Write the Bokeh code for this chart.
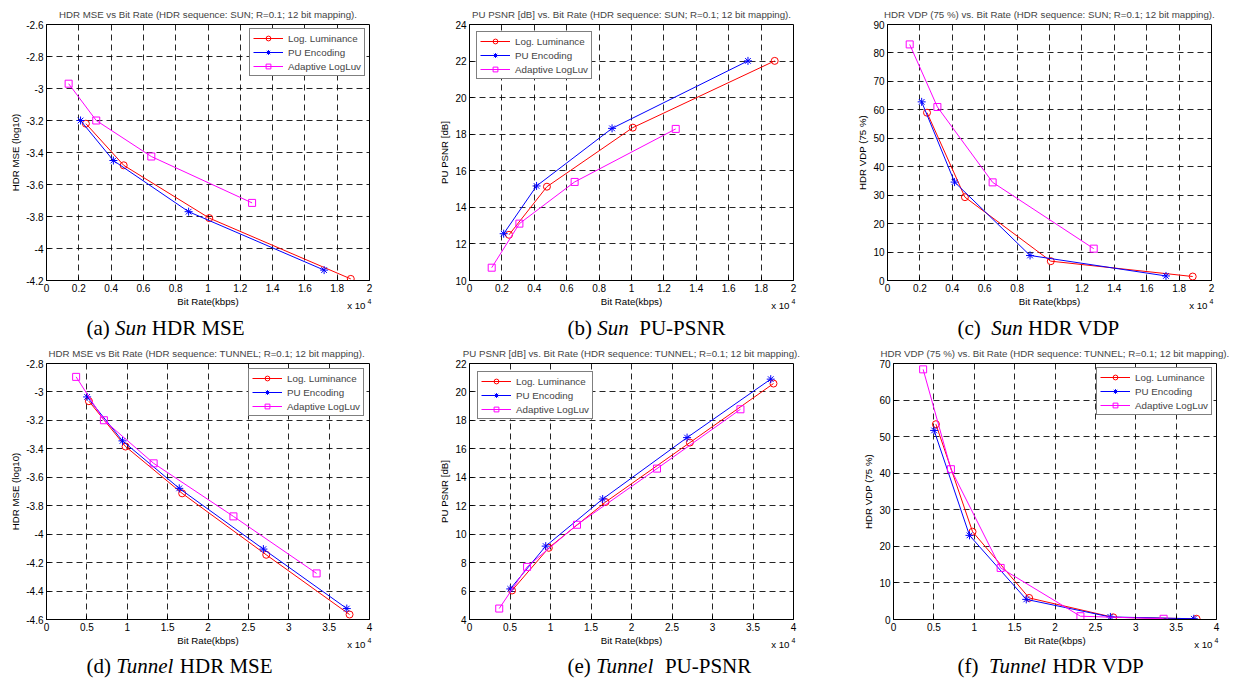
from bokeh.plotting import figure
from bokeh.models import Range1d, FixedTicker, Label
from bokeh.layouts import column, row
from bokeh.embed import file_html
from bokeh.resources import INLINE

# ---------------- data (bit rate in kbps) ----------------
SERIES = ["Log. Luminance", "PU Encoding", "Adaptive LogLuv"]

SUN_LOG_X = [2440, 4780, 10080, 18840]
SUN_PU_X = [2110, 4140, 8800, 17190]
SUN_LUV_X = [1370, 3080, 6490, 12730]

SUN_MSE_LOG = [-3.22, -3.48, -3.81, -4.19]
SUN_MSE_PU = [-3.20, -3.45, -3.77, -4.135]
SUN_MSE_LUV = [-2.97, -3.20, -3.425, -3.715]

SUN_PSNR_LOG = [12.50, 15.13, 18.36, 22.01]
SUN_PSNR_PU = [12.56, 15.17, 18.32, 22.01]
SUN_PSNR_LUV = [10.70, 13.11, 15.39, 18.29]

SUN_VDP_LOG = [59.0, 29.3, 6.8, 1.4]
SUN_VDP_PU = [62.8, 34.6, 8.8, 1.6]
SUN_VDP_LUV = [83.0, 61.0, 34.5, 11.2]

TUN_LOG_X = [5250, 9790, 16800, 27210, 37530]
TUN_PU_X = [5030, 9410, 16440, 26860, 37190]
TUN_LUV_X = [3670, 7110, 13270, 23150, 33450]

TUN_MSE_LOG = [-3.065, -3.384, -3.713, -4.145, -4.565]
TUN_MSE_PU = [-3.035, -3.344, -3.678, -4.105, -4.523]
TUN_MSE_LUV = [-2.894, -3.199, -3.502, -3.875, -4.276]

TUN_PSNR_LOG = [6.04, 9.04, 12.26, 16.44, 20.59]
TUN_PSNR_PU = [6.15, 9.16, 12.47, 16.79, 20.90]
TUN_PSNR_LUV = [4.77, 7.70, 10.66, 14.61, 18.78]

TUN_VDP_LOG = [53.4, 24.0, 5.9, 0.6, 0.2]
TUN_VDP_PU = [51.7, 23.0, 5.5, 0.7, 0.2]
TUN_VDP_LUV = [68.4, 41.1, 14.1, 0.9, 0.2]

# ---------------- ticks ----------------
X_TICKS_SUN = [0, 2000, 4000, 6000, 8000, 10000, 12000, 14000, 16000, 18000, 20000]
X_LABELS_SUN = ["0", "0.2", "0.4", "0.6", "0.8", "1", "1.2", "1.4", "1.6", "1.8", "2"]
X_TICKS_TUN = [0, 5000, 10000, 15000, 20000, 25000, 30000, 35000, 40000]
X_LABELS_TUN = ["0", "0.5", "1", "1.5", "2", "2.5", "3", "3.5", "4"]

Y_TICKS_SUN_MSE = [-4.2, -4.0, -3.8, -3.6, -3.4, -3.2, -3.0, -2.8, -2.6]
Y_LABELS_SUN_MSE = ["-4.2", "-4", "-3.8", "-3.6", "-3.4", "-3.2", "-3", "-2.8", "-2.6"]
Y_TICKS_SUN_PSNR = [10, 12, 14, 16, 18, 20, 22, 24]
Y_LABELS_SUN_PSNR = ["10", "12", "14", "16", "18", "20", "22", "24"]
Y_TICKS_SUN_VDP = [0, 10, 20, 30, 40, 50, 60, 70, 80, 90]
Y_LABELS_SUN_VDP = ["0", "10", "20", "30", "40", "50", "60", "70", "80", "90"]
Y_TICKS_TUN_MSE = [-4.6, -4.4, -4.2, -4.0, -3.8, -3.6, -3.4, -3.2, -3.0, -2.8]
Y_LABELS_TUN_MSE = ["-4.6", "-4.4", "-4.2", "-4", "-3.8", "-3.6", "-3.4", "-3.2", "-3", "-2.8"]
Y_TICKS_TUN_PSNR = [4, 6, 8, 10, 12, 14, 16, 18, 20, 22]
Y_LABELS_TUN_PSNR = ["4", "6", "8", "10", "12", "14", "16", "18", "20", "22"]
Y_TICKS_TUN_VDP = [0, 10, 20, 30, 40, 50, 60, 70]
Y_LABELS_TUN_VDP = ["0", "10", "20", "30", "40", "50", "60", "70"]

TITLES = [
    "HDR MSE vs Bit Rate (HDR sequence: SUN; R=0.1; 12 bit mapping).",
    "PU PSNR [dB] vs. Bit Rate (HDR sequence: SUN; R=0.1; 12 bit mapping).",
    "HDR VDP (75 %) vs. Bit Rate (HDR sequence: SUN; R=0.1; 12 bit mapping).",
    "HDR MSE vs  Bit Rate (HDR sequence: TUNNEL; R=0.1; 12 bit mapping).",
    "PU PSNR [dB] vs. Bit Rate (HDR sequence: TUNNEL; R=0.1; 12 bit mapping).",
    "HDR VDP (75 %) vs. Bit Rate (HDR sequence: TUNNEL; R=0.1; 12 bit mapping).",
]
Y_LABELS = ["HDR MSE (log10)", "PU PSNR [dB]", "HDR VDP (75 %)"]
X_LABEL = "Bit Rate(kbps)"
X_MULT = "x 10"
X_EXP = "4"
CAPTIONS = [
    ("(a) ", "Sun", " HDR MSE"),
    ("(b) ", "Sun", "  PU-PSNR"),
    ("(c)  ", "Sun", " HDR VDP"),
    ("(d) ", "Tunnel", " HDR MSE"),
    ("(e) ", "Tunnel", "  PU-PSNR"),
    ("(f)  ", "Tunnel", " HDR VDP"),
]

COLORS = ["#ff0000", "#0000ff", "#ff00ff"]
MARKERS = ["circle", "asterisk", "square"]
SANS = "Liberation Sans"
SERIF = "Liberation Serif"

# Times metrics (per 1000 em) for caption piece placement
TIMES_R = {" ": 250, "(": 333, ")": 333, "a": 444, "b": 500, "c": 444, "d": 500, "e": 444, "f": 333}
TIMES_I = {"S": 500, "u": 500, "n": 500, "T": 556, "e": 444, "l": 278}


def twidth(s, table, size):
    return sum(table.get(ch, 500) for ch in s) * size / 1000.0


# ---------------- layout geometry (page pixels) ----------------
COL_LEFT = [0, 418, 830]
COL_W = [418, 412, 403]
FRAME_LEFT = [[46, 469, 887], [46, 469, 893]]
FRAME_W = [[323, 324, 324], [323, 324, 323]]
ROW_TOP = [0, 340]
MAIN_H = [296, 295]
MAIN_MBT = [24, 23]
TITLE_STANDOFF = [10, 9]
FRAME_H = 256
STRIP_H = [44, 44]
CAP_X = [86, 567, 957]
CAP_MID = [327, 665]


def make_panel(idx, xs, ys, xticks, xlabels, yticks, ylabels, yrange, xmax, legend_loc, legend_margin):
    r, c = idx // 3, idx % 3
    W = COL_W[c]
    H = MAIN_H[r]
    mbl = FRAME_LEFT[r][c] - COL_LEFT[c]
    mbr = W - mbl - FRAME_W[r][c]
    mbt = MAIN_MBT[r]
    mbb = H - mbt - FRAME_H
    p = figure(width=W, height=H, x_range=Range1d(0, xmax), y_range=Range1d(*yrange),
               output_backend="svg", toolbar_location=None,
               min_border_left=mbl, min_border_right=mbr, min_border_top=mbt, min_border_bottom=mbb)
    p.background_fill_color = "white"
    p.border_fill_color = "white"
    p.outline_line_color = "black"
    p.outline_line_width = 1
    p.outline_line_alpha = 1

    p.title.text = TITLES[idx]
    p.title.align = "center"
    p.title.text_font = SANS
    p.title.text_font_size = "9.7px"
    p.title.text_font_style = "normal"
    p.title.standoff = TITLE_STANDOFF[r]

    p.xaxis.ticker = FixedTicker(ticks=xticks)
    p.xaxis.major_label_overrides = dict(zip(xticks, xlabels))
    p.yaxis.ticker = FixedTicker(ticks=yticks)
    p.yaxis.major_label_overrides = dict(zip(yticks, ylabels))
    p.yaxis.axis_label = Y_LABELS[c]
    for ax in (p.xaxis, p.yaxis):
        ax.axis_line_color = "black"
        ax.major_tick_line_color = "black"
        ax.major_tick_in = 4
        ax.major_tick_out = 0
        ax.minor_tick_line_color = None
        ax.major_label_text_font = SANS
        ax.major_label_text_font_size = "10px"
        ax.major_label_text_color = "black"
        ax.axis_label_text_font = SANS
        ax.axis_label_text_font_size = "9.7px"
        ax.axis_label_text_font_style = "normal"
        ax.axis_label_text_color = "black"
        ax.major_label_standoff = 3
        ax.axis_label_standoff = 2
    for g in (p.xgrid, p.ygrid):
        g.grid_line_color = "black"
        g.grid_line_alpha = 0.85
        g.grid_line_dash = "6 4"
        g.grid_line_width = 1

    for k in range(3):
        kw = {}
        if legend_loc is not None:
            kw["legend_label"] = SERIES[k]
        p.line(xs[k], ys[k], line_color=COLORS[k], line_width=1, **kw)
        p.scatter(xs[k], ys[k], marker=MARKERS[k], size=7 if k != 1 else 8,
                  line_color=COLORS[k], fill_color=None, line_width=1, **kw)

    if legend_loc is not None:
        lg = p.legend[0]
        lg.location = legend_loc
        lg.margin = legend_margin
        lg.border_line_color = "black"
        lg.border_line_width = 1.3
        lg.background_fill_color = "white"
        lg.background_fill_alpha = 1
        lg.label_text_font = SANS
        lg.label_text_font_size = "9.8px"
        lg.glyph_width = 30
        lg.glyph_height = 12
        lg.label_height = 12
        lg.label_standoff = 5
        lg.padding = 3
        lg.spacing = 2
    return p


def make_strip(idx):
    """Strip below a panel: x-axis title, x10^4 multiplier and the sub-figure caption."""
    r, c = idx // 3, idx % 3
    W = COL_W[c]
    Hs = STRIP_H[r]
    left = COL_LEFT[c]
    bottom = ROW_TOP[r] + MAIN_H[r] + Hs          # page y of strip bottom
    fl = FRAME_LEFT[r][c]
    fr = fl + FRAME_W[r][c]
    fb = ROW_TOP[r] + MAIN_MBT[r] + FRAME_H        # page y of frame bottom

    s = figure(width=W, height=Hs, x_range=Range1d(0, W), y_range=Range1d(0, Hs),
               x_axis_type=None, y_axis_type=None, title=None, output_backend="svg",
               toolbar_location=None, min_border=0)
    s.outline_line_color = None
    s.background_fill_color = "white"
    s.border_fill_color = "white"

    def lab(x, y, text, **kw):
        base = dict(x=x - left, y=bottom - y, x_units="screen", y_units="screen", text=text,
                    text_color="black")
        base.update(kw)
        s.add_layout(Label(**base))

    lab((fl + fr) / 2.0, fb + 20.7, X_LABEL, text_font=SANS, text_font_size="9.7px",
        text_align="center", text_baseline="middle")
    lab(fr - 4, fb + 25, X_MULT, text_font=SANS, text_font_size="9.7px",
        text_align="right", text_baseline="middle")
    lab(fr - 2, fb + 20.5, X_EXP, text_font=SANS, text_font_size="7px",
        text_align="left", text_baseline="middle")

    pre, it, rest = CAPTIONS[idx]
    size = 21
    cx = CAP_X[c]
    cy = CAP_MID[r]
    common = dict(text_font=SERIF, text_font_size="%dpx" % size, text_align="left",
                  text_baseline="middle")
    lab(cx, cy, pre.strip(), text_font_style="normal", **common)
    x1 = cx + twidth(pre, TIMES_R, size)
    lab(x1, cy, it, text_font_style="italic", **common)
    lead = len(rest) - len(rest.lstrip())
    x2 = x1 + twidth(it, TIMES_I, size) + lead * 250 * size / 1000.0
    lab(x2, cy, rest.strip(), text_font_style="normal", **common)
    return s


SUN_X = [SUN_LOG_X, SUN_PU_X, SUN_LUV_X]
TUN_X = [TUN_LOG_X, TUN_PU_X, TUN_LUV_X]

p1 = make_panel(0, SUN_X, [SUN_MSE_LOG, SUN_MSE_PU, SUN_MSE_LUV], X_TICKS_SUN, X_LABELS_SUN,
                Y_TICKS_SUN_MSE, Y_LABELS_SUN_MSE, (-4.2, -2.6), 20000, "top_right", 4)
p2 = make_panel(1, SUN_X, [SUN_PSNR_LOG, SUN_PSNR_PU, SUN_PSNR_LUV], X_TICKS_SUN, X_LABELS_SUN,
                Y_TICKS_SUN_PSNR, Y_LABELS_SUN_PSNR, (10, 24), 20000, "top_left", 7)
p3 = make_panel(2, SUN_X, [SUN_VDP_LOG, SUN_VDP_PU, SUN_VDP_LUV], X_TICKS_SUN, X_LABELS_SUN,
                Y_TICKS_SUN_VDP, Y_LABELS_SUN_VDP, (0, 90), 20000, None, 0)
p4 = make_panel(3, TUN_X, [TUN_MSE_LOG, TUN_MSE_PU, TUN_MSE_LUV], X_TICKS_TUN, X_LABELS_TUN,
                Y_TICKS_TUN_MSE, Y_LABELS_TUN_MSE, (-4.6, -2.8), 40000, "top_right", 5)
p5 = make_panel(4, TUN_X, [TUN_PSNR_LOG, TUN_PSNR_PU, TUN_PSNR_LUV], X_TICKS_TUN, X_LABELS_TUN,
                Y_TICKS_TUN_PSNR, Y_LABELS_TUN_PSNR, (4, 22), 40000, "top_left", 8)
p6 = make_panel(5, TUN_X, [TUN_VDP_LOG, TUN_VDP_PU, TUN_VDP_LUV], X_TICKS_TUN, X_LABELS_TUN,
                Y_TICKS_TUN_VDP, Y_LABELS_TUN_VDP, (0, 70), 40000, "top_right", 4)

strips = [make_strip(i) for i in range(6)]

layout = column(
    row(p1, p2, p3, spacing=0),
    row(strips[0], strips[1], strips[2], spacing=0),
    row(p4, p5, p6, spacing=0),
    row(strips[3], strips[4], strips[5], spacing=0),
    spacing=0,
)

open("out.html", "w").write(file_html(layout, INLINE))
